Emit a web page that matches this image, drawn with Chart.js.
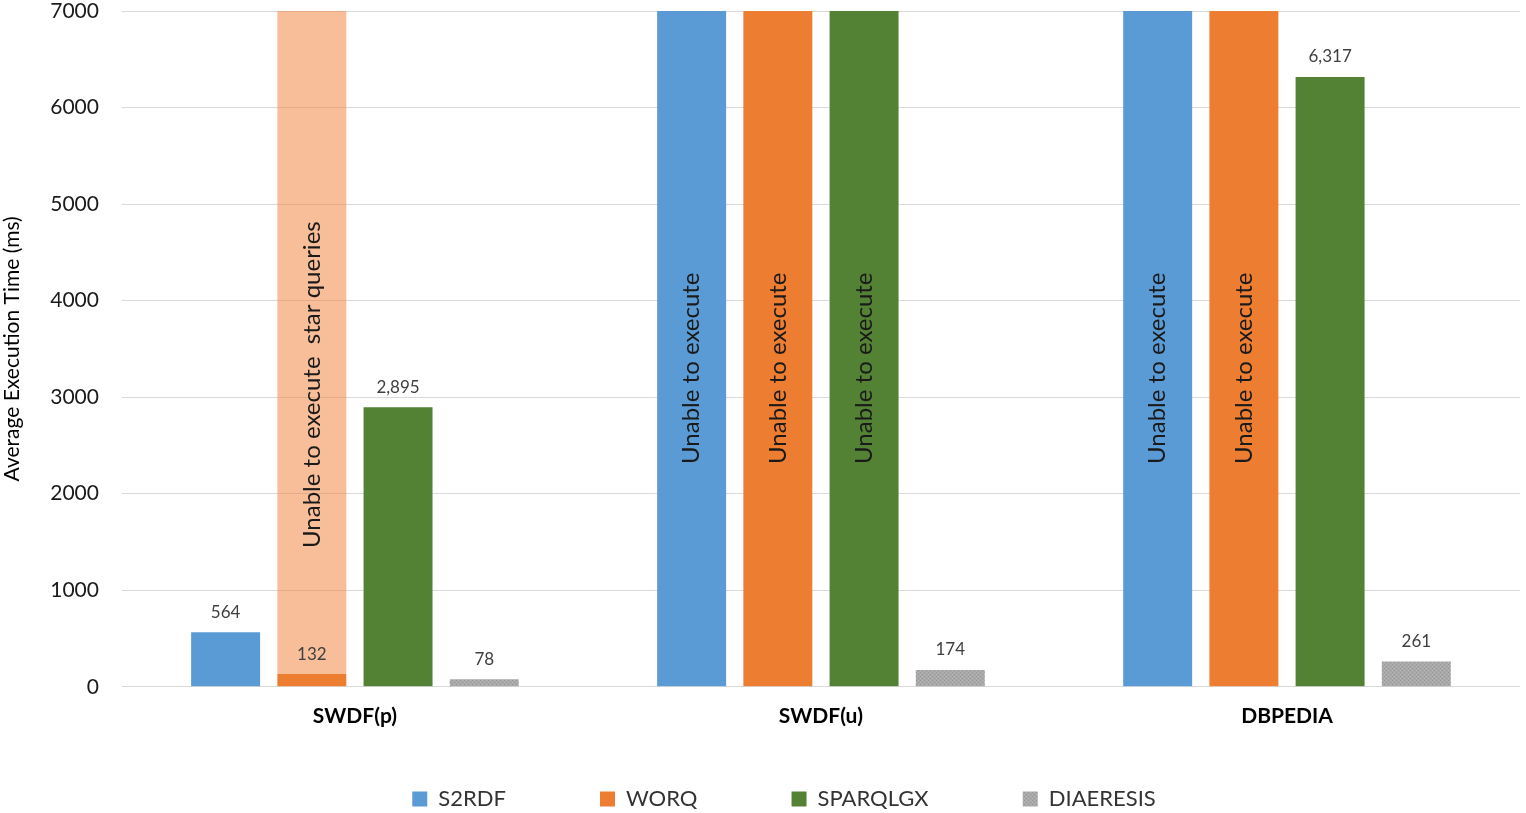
<!DOCTYPE html>
<html>
<head>
<meta charset="utf-8">
<script src="https://cdn.jsdelivr.net/npm/chart.js@4/dist/chart.umd.min.js"></script>
<style>
  html, body { margin: 0; padding: 0; background: #fff; }
  #wrap { width: 1526px; height: 813px; }
</style>
</head>
<body>
<div id="wrap"><canvas id="grafico"></canvas></div>
<script>
// data; null = the system was unable to execute
const categorias = ['SWDF(p)', 'SWDF(u)', 'DBPEDIA']
const s2rdf = [564, null, null]
const worq = [132, null, null]
const sparqlgx = [2895, null, 6317]
const diaeresis = [78, 174, 261]
// light orange bar on top of WORQ for SWDF(p) (star queries)
const worqEstrela = [6868, null, null]
const yTicks = [0, 1000, 2000, 3000, 4000, 5000, 6000, 7000]
const topoEixo = 7000

const fonte = 'Lato, "Open Sans", sans-serif'

function barra(arr) {
    return arr.map(v => v === null ? topoEixo : v)
}

// gray texture for DIAERESIS
function padraoCinza() {
    const c = document.createElement('canvas')
    c.width = 4
    c.height = 4
    const g = c.getContext('2d')
    g.fillStyle = '#a9a9a9'
    g.fillRect(0, 0, 4, 4)
    g.fillStyle = '#959595'
    g.fillRect(0, 0, 1, 1)
    g.fillRect(2, 2, 1, 1)
    g.fillStyle = '#b8b8b8'
    g.fillRect(2, 0, 1, 1)
    g.fillRect(0, 2, 1, 1)
    return g.createPattern(c, 'repeat')
}

function textoVertical(ctx, texto, x, y) {
    ctx.save()
    ctx.translate(x, y)
    ctx.rotate(-Math.PI / 2)
    ctx.font = '24px ' + fonte
    ctx.fillStyle = '#1a1a1a'
    ctx.textAlign = 'center'
    ctx.textBaseline = 'middle'
    ctx.fillText(texto, 0, 0)
    ctx.restore()
}

const rotulos = {
    id: 'rotulos',
    afterLayout(chart) {
        // legend sits a little right of centre and lower in the original
        chart.legend.left += 24
        chart.legend.right += 24
        chart.legend.top += 7
        chart.legend.bottom += 7
    },
    afterDatasetsDraw(chart) {
        const ctx = chart.ctx
        const y = chart.scales.y
        chart.data.datasets.forEach((ds, i) => {
            const meta = chart.getDatasetMeta(i)
            if (!ds.valores) return
            meta.data.forEach((bar, j) => {
                const v = ds.valores[j]
                if (v === null) {
                    textoVertical(ctx, 'Unable to execute', bar.x, y.getPixelForValue(3300))
                } else {
                    ctx.save()
                    ctx.font = '17px ' + fonte
                    ctx.fillStyle = '#404040'
                    ctx.textAlign = 'center'
                    ctx.textBaseline = 'middle'
                    ctx.fillText(v.toLocaleString('en-US'), bar.x, bar.y - 20)
                    ctx.restore()
                }
            })
        })
        const b = chart.getDatasetMeta(2).data[0]
        textoVertical(ctx, 'Unable to execute  star queries', b.x, y.getPixelForValue(3130))
    }
}

const ctx = document.getElementById('grafico').getContext('2d')
new Chart(ctx, {
    type: 'bar',
    data: {
        labels: categorias,
        datasets: [
            { label: 'S2RDF', data: barra(s2rdf), valores: s2rdf, backgroundColor: '#5b9bd5', stack: 'a' },
            { label: 'WORQ', data: barra(worq), valores: worq, backgroundColor: '#ed7d31', stack: 'b' },
            { label: 'estrela', data: worqEstrela, backgroundColor: 'rgba(240,130,60,0.52)', stack: 'b' },
            { label: 'SPARQLGX', data: barra(sparqlgx), valores: sparqlgx, backgroundColor: '#548235', stack: 'c' },
            { label: 'DIAERESIS', data: diaeresis, valores: diaeresis, backgroundColor: padraoCinza(), stack: 'd' },
        ]
    },
    options: {
        responsive: true,
        maintainAspectRatio: false,
        animation: false,
        categoryPercentage: 0.74,
        barPercentage: 0.8,
        layout: { padding: { left: 0, right: 6, top: 11, bottom: 0 } },
        plugins: {
            legend: {
                position: 'bottom',
                labels: {
                    font: { family: fonte, size: 22 },
                    color: '#333',
                    boxWidth: 15,
                    boxHeight: 15,
                    padding: 4,
                    generateLabels: chart => chart.data.datasets
                        .map((ds, i) => ({
                            text: ds.label + (i < 4 ? '                ' : ''),
                            fillStyle: ds.backgroundColor,
                            strokeStyle: ds.backgroundColor,
                            lineWidth: 0,
                            datasetIndex: i,
                            fontColor: '#333'
                        }))
                        .filter(item => item.datasetIndex !== 2)
                }
            },
            tooltip: { enabled: false }
        },
        scales: {
            x: {
                stacked: true,
                grid: { display: false },
                border: { display: false },
                ticks: { color: '#000', font: { family: fonte, size: 21, weight: 'bold' }, padding: 9 },
                afterFit: s => { s.height += 39 }
            },
            y: {
                stacked: true,
                min: 0,
                max: topoEixo,
                afterBuildTicks: s => { s.ticks = yTicks.map(v => ({ value: v })) },
                grid: { color: '#d9d9d9', drawTicks: true, tickLength: 23, tickColor: 'rgba(0,0,0,0)' },
                border: { display: false },
                ticks: { color: '#1a1a1a', font: { family: fonte, size: 21, lineHeight: 0.9 }, padding: 0, callback: v => String(v) },
                title: {
                    display: true,
                    text: 'Average Execution Time (ms)',
                    color: '#000',
                    font: { family: fonte, size: 21 },
                    padding: { top: 0, bottom: 25 }
                }
            }
        }
    },
    plugins: [rotulos]
})
</script>
</body>
</html>
